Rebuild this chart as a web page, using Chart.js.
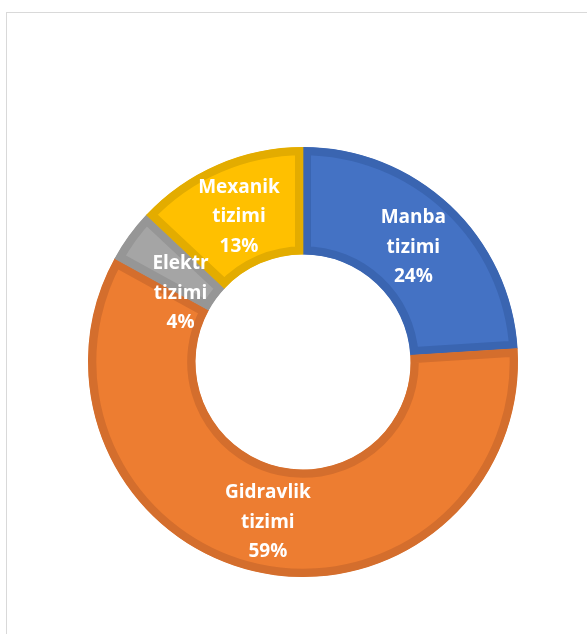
<!DOCTYPE html>
<html>
<head>
<meta charset="utf-8">
<script src="https://cdn.jsdelivr.net/npm/chart.js@4"></script>
<style>
  html, body { margin: 0; padding: 0; background: #fff; }
  #wrap { position: relative; width: 587px; height: 634px; overflow: hidden; }
  #frame { position: absolute; left: 6px; top: 12px; width: 700px; height: 700px; border: 1.5px solid #d9d9d9; box-sizing: border-box; }
  canvas { position: absolute; left: 0; top: 0; }
</style>
</head>
<body>
<div id="wrap">
  <div id="frame"></div>
  <canvas id="chart" width="587" height="634"></canvas>
</div>
<script>
// --- data ---
const categories = ['Manba tizimi', 'Gidravlik tizimi', 'Elektr tizimi', 'Mexanik tizimi'];
const shares = [24, 59, 4, 13];

// colours (fill + darker edge)
const fillColors = ['#4472C4', '#ED7D31', '#A5A5A5', '#FFC000'];
const edgeColors = ['#3A65B1', '#D46E2D', '#969696', '#E3AC00'];

// draws "name / name / NN%" labels inside each slice
const sliceLabels = {
    id: 'sliceLabels',
    afterDatasetsDraw(chart) {
        const { ctx } = chart;
        const meta = chart.getDatasetMeta(0);
        const total = shares.reduce((a, b) => a + b, 0);
        ctx.save();
        ctx.fillStyle = '#ffffff';
        ctx.font = "bold 19px 'Open Sans', sans-serif";
        ctx.textAlign = 'center';
        ctx.textBaseline = 'middle';
        meta.data.forEach((arc, i) => {
            const p = arc.tooltipPosition();
            let x = p.x, y = p.y + 3;
            // small slice label sits a little lower, like the original
            if (i === 2) { y += 23; x += 8; }
            const lines = categories[i].split(' ');
            lines.push(Math.round(shares[i] / total * 100) + '%');
            const lh = 29.5;
            const start = y - (lines.length - 1) * lh / 2;
            lines.forEach((t, k) => ctx.fillText(t, x, start + k * lh));
        });
        ctx.restore();
    }
};

new Chart(document.getElementById('chart'), {
    type: 'doughnut',
    data: {
        labels: categories,
        datasets: [{
            data: shares,
            backgroundColor: fillColors,
            borderColor: edgeColors,
            borderWidth: 8,
            borderAlign: 'inner',
            borderJoinStyle: 'miter'
        }]
    },
    options: {
        responsive: false,
        animation: false,
        cutout: '50%',
        layout: { padding: { left: 88, right: 69, top: 147, bottom: 57 } },
        plugins: {
            legend: { display: false },
            tooltip: { enabled: false }
        }
    },
    plugins: [sliceLabels]
});
</script>
</body>
</html>
